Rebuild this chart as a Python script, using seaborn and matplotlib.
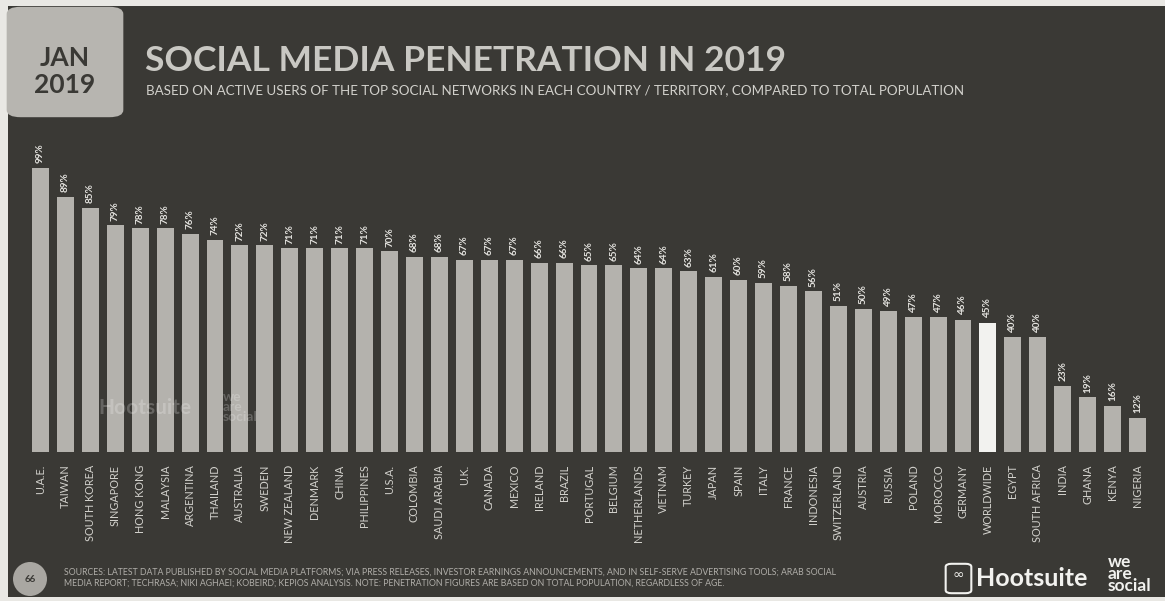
import matplotlib
matplotlib.use("Agg")
import matplotlib.pyplot as plt
import seaborn as sns
import pandas as pd
from matplotlib.patches import FancyBboxPatch, Rectangle, Ellipse

countries = ["U.A.E.", "TAIWAN", "SOUTH KOREA", "SINGAPORE", "HONG KONG", "MALAYSIA",
             "ARGENTINA", "THAILAND", "AUSTRALIA", "SWEDEN", "NEW ZEALAND", "DENMARK",
             "CHINA", "PHILIPPINES", "U.S.A.", "COLOMBIA", "SAUDI ARABIA", "U.K.",
             "CANADA", "MEXICO", "IRELAND", "BRAZIL", "PORTUGAL", "BELGIUM",
             "NETHERLANDS", "VIETNAM", "TURKEY", "JAPAN", "SPAIN", "ITALY", "FRANCE",
             "INDONESIA", "SWITZERLAND", "AUSTRIA", "RUSSIA", "POLAND", "MOROCCO",
             "GERMANY", "WORLDWIDE", "EGYPT", "SOUTH AFRICA", "INDIA", "GHANA",
             "KENYA", "NIGERIA"]
penetration = [99, 89, 85, 79, 78, 78, 76, 74, 72, 72, 71, 71, 71, 71, 70, 68, 68, 67,
               67, 67, 66, 66, 65, 65, 64, 64, 63, 61, 60, 59, 58, 56, 51, 50, 49, 47,
               47, 46, 45, 40, 40, 23, 19, 16, 12]
value_labels = [f"{v}%" for v in penetration]

BG = "#3a3935"
BAR = "#b4b2ad"
HIGHLIGHT = "#f2f2ef"
TXT = "#d2d1cc"

sns.set_theme(style="white")
plt.rcParams["font.family"] = ["Lato", "DejaVu Sans"]

W, H = 1165, 601
fig = plt.figure(figsize=(11.65, 6.01), dpi=100)
fig.patch.set_facecolor("#e9e8e4")
# dark panel behind everything
fig.patches.append(Rectangle((8 / W, 4 / H), 1 - 8 / W, 1 - 10 / H,
                             transform=fig.transFigure, facecolor=BG,
                             edgecolor="none", zorder=-5))

ax = fig.add_axes([28 / W, 1 - 452 / H, 1122 / W, 315.7 / H])
ax.set_facecolor("none")
ax.set_zorder(2)

df = pd.DataFrame({"country": countries, "value": penetration})
palette = {c: (HIGHLIGHT if c == "WORLDWIDE" else BAR) for c in countries}
sns.barplot(data=df, x="country", y="value", hue="country", palette=palette,
            legend=False, width=0.68, saturation=1, ax=ax, linewidth=0)

ax.set_xlim(-0.5, len(countries) - 0.5)
ax.set_ylim(0, 110)
for s in ax.spines.values():
    s.set_visible(False)
ax.set_yticks([])
ax.set_xlabel("")
ax.set_ylabel("")
ax.tick_params(axis="x", length=0, pad=9)
ax.set_xticks(range(len(countries)))
ax.set_xticklabels(countries, rotation=90, fontsize=7.8, color=TXT, va="top")

for i, (v, lab) in enumerate(zip(penetration, value_labels)):
    ax.text(i, v + 1.6, lab, rotation=90, ha="center", va="bottom",
            fontsize=7.2, fontweight="bold", color="#e4e3df")

# date box
fig.patches.append(FancyBboxPatch((9 / W, 1 - 116 / H), 112 / W, 108 / H,
                                  boxstyle="round,pad=0.002,rounding_size=0.012",
                                  transform=fig.transFigure, facecolor="#b7b5b0",
                                  edgecolor="none", zorder=1))
fig.text(65 / W, 1 - 58 / H, "JAN", ha="center", va="center", fontsize=19,
         fontweight="bold", color="#3a3935")
fig.text(65 / W, 1 - 85 / H, "2019", ha="center", va="center", fontsize=19,
         fontweight="bold", color="#3a3935")

fig.text(145 / W, 1 - 61 / H, "SOCIAL MEDIA PENETRATION IN 2019", ha="left",
         va="center", fontsize=25.5, fontweight="bold", color="#c9c8c3")
fig.text(146 / W, 1 - 90 / H,
         "BASED ON ACTIVE USERS OF THE TOP SOCIAL NETWORKS IN EACH COUNTRY / TERRITORY, COMPARED TO TOTAL POPULATION",
         ha="left", va="center", fontsize=9.6, color=TXT)

# watermark (over the bars, faint)
fig.text(98 / W, 1 - 408 / H, "Hootsuite", ha="left", va="center", fontsize=15,
         fontweight="bold", color="white", alpha=0.22, zorder=5)
fig.text(223 / W, 1 - 407 / H, "we\nare\nsocial", ha="left", va="center",
         fontsize=10, fontweight="bold", color="white", alpha=0.22,
         linespacing=0.8, zorder=5)

# footer
fig.patches.append(Ellipse((30 / W, 1 - 579 / H), 34 / W, 34 / H,
                           transform=fig.transFigure, facecolor="#a9a7a2",
                           edgecolor="none", zorder=1))
fig.text(30 / W, 1 - 579 / H, "66", ha="center", va="center", fontsize=7,
         color="#3a3935", fontweight="bold")
fig.text(64 / W, 1 - 578 / H,
         "SOURCES: LATEST DATA PUBLISHED BY SOCIAL MEDIA PLATFORMS; VIA PRESS RELEASES, INVESTOR EARNINGS ANNOUNCEMENTS, AND IN SELF-SERVE ADVERTISING TOOLS; ARAB SOCIAL\n"
         "MEDIA REPORT; TECHRASA; NIKI AGHAEI; KOBEIRD; KEPIOS ANALYSIS. NOTE: PENETRATION FIGURES ARE BASED ON TOTAL POPULATION, REGARDLESS OF AGE.",
         ha="left", va="center", fontsize=6.3, color="#b0aea9", linespacing=1.3)
fig.text(976 / W, 1 - 578 / H, "Hootsuite", ha="left", va="center", fontsize=18,
         fontweight="bold", color="#f2f2ef")
fig.text(1108 / W, 1 - 574 / H, "we\nare\nsocial", ha="left", va="center",
         fontsize=12.5, fontweight="bold", color="#f2f2ef", linespacing=0.7)
fig.patches.append(FancyBboxPatch((948 / W, 1 - 592 / H), 21 / W, 27 / H,
                                  boxstyle="round,pad=0.002,rounding_size=0.005",
                                  transform=fig.transFigure, facecolor="none",
                                  edgecolor="#f2f2ef", linewidth=1.5, zorder=1))
fig.text(958.5 / W, 1 - 575 / H, "∞", ha="center", va="center", fontsize=10,
         color="#f2f2ef", family=["DejaVu Sans"])

fig.savefig("out.png", dpi=100, facecolor=fig.get_facecolor())
